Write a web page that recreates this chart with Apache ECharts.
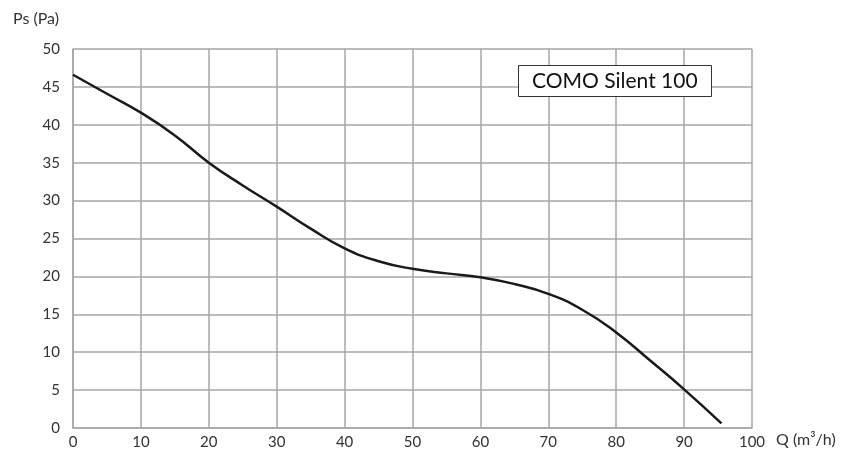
<!DOCTYPE html>
<html>
<head>
<meta charset="utf-8">
<script src="https://cdn.jsdelivr.net/npm/echarts@6/dist/echarts.min.js"></script>
<style>html,body{margin:0;padding:0;background:#fff}#c{width:850px;height:455px}</style>
</head>
<body>
<div id="c"></div>
<script>
const flowQ = [0, 5, 10, 15, 20, 25, 30, 35, 40, 45, 50, 55, 60, 65, 70, 75, 80, 85, 90, 95.5];
const pressurePs = [46.6, 44.1, 41.6, 38.6, 35.0, 32.0, 29.2, 26.3, 23.7, 22.0, 21.0, 20.4, 19.9, 19.0, 17.7, 15.6, 12.6, 8.9, 5.1, 0.6];
const modelName = 'COMO Silent 100';
const xAxisName = 'Q (m³/h)';
const yAxisName = 'Ps (Pa)';

const chart = echarts.init(document.getElementById('c'), null, {renderer: 'canvas'});
const font = 'Lato, "Open Sans", sans-serif';
const gridColor = '#a6a6a6';
chart.setOption({
  animation: false,
  backgroundColor: '#fff',
  title: {
    text: modelName,
    left: 518, top: 65,
    padding: [6, 14, 5, 14],
    borderColor: '#333', borderWidth: 1,
    backgroundColor: '#fff',
    textStyle: {fontFamily: font, fontSize: 21, fontWeight: 'normal', color: '#111'}
  },
  grid: {left: 73, right: 98, top: 49, bottom: 27, containLabel: false},
  xAxis: {
    type: 'value', min: 0, max: 100, interval: 10,
    name: xAxisName, nameLocation: 'end', nameGap: 24,
    nameTextStyle: {fontFamily: font, fontSize: 16, color: '#333', verticalAlign: 'top', padding: [4, 0, 0, 0]},
    axisLine: {show: true, lineStyle: {color: gridColor, width: 1.5}},
    axisTick: {show: false},
    axisLabel: {fontFamily: font, fontSize: 15, color: '#333', margin: 7},
    splitLine: {show: true, lineStyle: {color: gridColor, width: 1.5}}
  },
  yAxis: {
    type: 'value', min: 0, max: 50, interval: 5,
    name: yAxisName, nameLocation: 'end', nameGap: 22,
    nameTextStyle: {fontFamily: font, fontSize: 16, color: '#333', align: 'right', padding: [0, 14, 0, 0]},
    axisLine: {show: true, lineStyle: {color: gridColor, width: 1.5}},
    axisTick: {show: false},
    axisLabel: {fontFamily: font, fontSize: 15, color: '#333', margin: 13},
    splitLine: {show: true, lineStyle: {color: gridColor, width: 1.5}}
  },
  series: [{
    type: 'line',
    data: flowQ.map((q, i) => [q, pressurePs[i]]),
    smooth: 0.5,
    showSymbol: false,
    lineStyle: {color: '#1a1a1a', width: 2.5}
  }]
});
</script>
</body>
</html>
